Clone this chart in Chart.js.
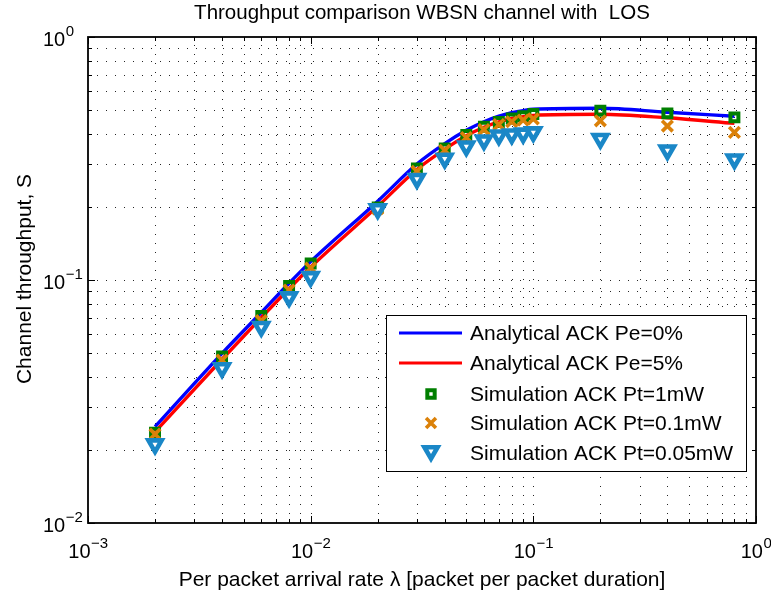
<!DOCTYPE html>
<html>
<head>
<meta charset="utf-8">
<script src="https://cdn.jsdelivr.net/npm/chart.js@4/dist/chart.umd.min.js"></script>
<style>
  html, body { margin: 0; padding: 0; background: #fff; }
  #wrap { width: 771px; height: 592px; position: relative; }
</style>
</head>
<body>
<div id="wrap"><canvas id="c" width="771" height="592"></canvas></div>
<script>
// ---- data ----
const lambda = [0.002, 0.004, 0.006, 0.008, 0.01, 0.02, 0.03, 0.04, 0.05, 0.06, 0.07, 0.08, 0.09, 0.1, 0.2, 0.4, 0.8];
const analyticPe0 = [0.0249, 0.0499, 0.0735, 0.097, 0.119, 0.211, 0.300, 0.364, 0.413, 0.448, 0.472, 0.488, 0.498, 0.504, 0.509, 0.490, 0.472];
const analyticPe5 = [0.0237, 0.0472, 0.0700, 0.092, 0.113, 0.201, 0.285, 0.345, 0.392, 0.425, 0.447, 0.462, 0.470, 0.476, 0.481, 0.465, 0.441];
const sim1mW   = [0.0235, 0.0484, 0.0712, 0.0945, 0.117, 0.199, 0.288, 0.348, 0.395, 0.427, 0.447, 0.462, 0.472, 0.482, 0.497, 0.485, 0.467];
const sim01mW  = [0.0232, 0.0468, 0.0680, 0.0910, 0.112, 0.196, 0.280, 0.342, 0.386, 0.416, 0.436, 0.448, 0.455, 0.460, 0.452, 0.430, 0.405];
const sim005mW = [0.0211, 0.0434, 0.0642, 0.0850, 0.103, 0.196, 0.261, 0.316, 0.355, 0.376, 0.394, 0.398, 0.401, 0.406, 0.381, 0.342, 0.314];

const xTickValues = [0.001, 0.01, 0.1, 1];
const xTickExps = ['\u22123', '\u22122', '\u22121', '0'];
const yTickValues = [0.01, 0.1, 1];
const yTickExps = ['\u22122', '\u22121', '0'];

const seriesNames = ['Analytical ACK Pe=0%', 'Analytical ACK Pe=5%', 'Simulation ACK Pt=1mW', 'Simulation ACK Pt=0.1mW', 'Simulation ACK Pt=0.05mW'];
const titleText = 'Throughput comparison WBSN channel with  LOS';
const xTitle = 'Per packet arrival rate \u03bb [packet per packet duration]';
const yTitle = 'Channel throughput, S';

const FONT = '"Liberation Sans", Arial, Helvetica, sans-serif';
const BLUE = '#0000FF', RED = '#FF0000', GREEN = '#007F00', ORANGE = '#DB8109', CYAN = '#1A87C7';

const pts = (ys) => lambda.map((x, i) => ({x: x, y: ys[i]}));

function logTicks(min, max) {
  const out = [];
  for (let e = Math.round(Math.log10(min)); e < Math.round(Math.log10(max)); e++) {
    for (let m = 1; m < 10; m++) out.push(m * Math.pow(10, e));
  }
  out.push(max);
  return out;
}
const isMajor = v => Math.abs(Math.log10(v) - Math.round(Math.log10(v))) < 1e-9;

// draw "10" with a superscript exponent; mode 'center' centres whole label, 'left' starts at x
function drawPow(ctx, exp, x, y, mode) {
  ctx.save();
  ctx.fillStyle = '#000';
  ctx.textBaseline = 'alphabetic';
  ctx.textAlign = 'left';
  ctx.font = '20px ' + FONT;
  const wb = ctx.measureText('10').width;
  ctx.font = '15px ' + FONT;
  const we = ctx.measureText(exp).width;
  const x0 = mode === 'center' ? x - (wb + we) / 2 : x;
  ctx.font = '20px ' + FONT;
  ctx.fillText('10', x0, y);
  ctx.font = '15px ' + FONT;
  ctx.fillText(exp, x0 + wb + 0.5, y - 10);
  ctx.restore();
}

const LEG = { x: 386, y: 315, w: 360, h: 156, rows: [333, 363, 394, 423, 453], lineX0: 399, lineX1: 462, markX: 431, textX: 470 };

const matlabPlugin = {
  id: 'matlab',
  beforeDatasetsDraw(chart) {
    const {ctx, chartArea: a, scales: {x, y}} = chart;
    ctx.save();
    ctx.strokeStyle = 'rgba(0,0,0,0.85)';
    ctx.lineWidth = 1;
    ctx.setLineDash([1, 8]);
    logTicks(0.001, 1).forEach(v => {
      const px = Math.round(x.getPixelForValue(v)) + 0.5;
      if (px <= a.left + 1 || px >= a.right - 1) return;
      ctx.beginPath(); ctx.moveTo(px, a.bottom); ctx.lineTo(px, a.top); ctx.stroke();
    });
    logTicks(0.01, 1).forEach(v => {
      const py = Math.round(y.getPixelForValue(v)) + 0.5;
      if (py <= a.top + 1 || py >= a.bottom - 1) return;
      ctx.beginPath(); ctx.moveTo(a.left, py); ctx.lineTo(a.right, py); ctx.stroke();
    });
    ctx.restore();
  },
  afterDatasetsDraw(chart) {
    const {ctx, chartArea: a, scales: {x, y}} = chart;
    ctx.save();
    ctx.strokeStyle = '#000';
    ctx.lineWidth = 1;
    ctx.setLineDash([]);
    logTicks(0.001, 1).forEach(v => {
      const px = Math.round(x.getPixelForValue(v)) + 0.5;
      const len = isMajor(v) ? 7 : 4;
      ctx.beginPath();
      ctx.moveTo(px, a.bottom); ctx.lineTo(px, a.bottom - len);
      ctx.moveTo(px, a.top); ctx.lineTo(px, a.top + len);
      ctx.stroke();
    });
    logTicks(0.01, 1).forEach(v => {
      const py = Math.round(y.getPixelForValue(v)) + 0.5;
      const len = isMajor(v) ? 7 : 4;
      ctx.beginPath();
      ctx.moveTo(a.left, py); ctx.lineTo(a.left + len, py);
      ctx.moveTo(a.right, py); ctx.lineTo(a.right - len, py);
      ctx.stroke();
    });
    ctx.lineWidth = 1.8;
    ctx.strokeRect(a.left, a.top, a.right - a.left, a.bottom - a.top);

    // legend
    ctx.fillStyle = '#fff';
    ctx.fillRect(LEG.x, LEG.y, LEG.w, LEG.h);
    ctx.lineWidth = 1;
    ctx.strokeStyle = '#000';
    ctx.strokeRect(LEG.x + 0.5, LEG.y + 0.5, LEG.w, LEG.h);
    ctx.font = '21px ' + FONT;
    ctx.textBaseline = 'middle';
    ctx.textAlign = 'left';
    chart.data.datasets.forEach((ds, i) => {
      const ry = LEG.rows[i];
      ctx.save();
      if (ds.showLine !== false) {
        ctx.strokeStyle = ds.borderColor;
        ctx.lineWidth = 3.2;
        ctx.beginPath(); ctx.moveTo(LEG.lineX0, ry); ctx.lineTo(LEG.lineX1, ry); ctx.stroke();
      } else {
        ctx.fillStyle = ds.pointBackgroundColor;
        ctx.strokeStyle = ds.pointBorderColor;
        ctx.lineWidth = ds.pointBorderWidth;
        Chart.helpers.drawPoint(ctx, {
          pointStyle: ds.pointStyle, rotation: ds.pointRotation || 0,
          radius: ds.legendRadius, borderWidth: ds.pointBorderWidth
        }, LEG.markX, ry - (ds.pointStyle === 'triangle' ? 2 : 0));
      }
      ctx.restore();
      ctx.fillStyle = '#000';
      ctx.fillText(seriesNames[i], LEG.textX, ry + 1);
    });
    ctx.restore();
  },
  afterDraw(chart) {
    const {ctx, chartArea: a, scales: {x, y}} = chart;
    ctx.save();
    xTickValues.forEach((v, i) => drawPow(ctx, xTickExps[i], x.getPixelForValue(v), 558, 'center'));
    yTickValues.forEach((v, i) => drawPow(ctx, yTickExps[i], 43, y.getPixelForValue(v) + 9, 'left'));
    ctx.fillStyle = '#000';
    ctx.textAlign = 'center';
    ctx.textBaseline = 'alphabetic';
    ctx.font = '20.5px ' + FONT;
    ctx.fillText(titleText, (a.left + a.right) / 2, 19);
    ctx.font = '21px ' + FONT;
    ctx.fillText(xTitle, (a.left + a.right) / 2, 586);
    ctx.translate(31, 279);
    ctx.rotate(-Math.PI / 2);
    ctx.fillText(yTitle, 0, 0);
    ctx.restore();
  }
};

const ctx = document.getElementById('c').getContext('2d');
new Chart(ctx, {
  type: 'line',
  data: {
    datasets: [
      { label: seriesNames[0], data: pts(analyticPe0), borderColor: BLUE, backgroundColor: BLUE,
        borderWidth: 3.4, pointRadius: 0, tension: 0.4, cubicInterpolationMode: 'monotone', order: 5 },
      { label: seriesNames[1], data: pts(analyticPe5), borderColor: RED, backgroundColor: RED,
        borderWidth: 3.4, pointRadius: 0, tension: 0.4, cubicInterpolationMode: 'monotone', order: 4 },
      { label: seriesNames[2], data: pts(sim1mW), showLine: false, pointStyle: 'rect',
        pointRadius: 5.6, legendRadius: 5.2, borderColor: GREEN, backgroundColor: 'rgba(0,0,0,0)',
        pointBorderColor: GREEN, pointBackgroundColor: 'rgba(0,0,0,0)', pointBorderWidth: 4, order: 3 },
      { label: seriesNames[3], data: pts(sim01mW), showLine: false, pointStyle: 'crossRot',
        pointRadius: 7.5, legendRadius: 7, borderColor: ORANGE, backgroundColor: ORANGE,
        pointBorderColor: ORANGE, pointBackgroundColor: ORANGE, pointBorderWidth: 3.6, order: 2 },
      { label: seriesNames[4], data: pts(sim005mW), showLine: false, pointStyle: 'triangle',
        pointRotation: 180, pointRadius: 7.6, legendRadius: 7.6, borderColor: CYAN, backgroundColor: '#fff',
        pointBorderColor: CYAN, pointBackgroundColor: '#fff', pointBorderWidth: 4.6, order: 1 }
    ]
  },
  options: {
    responsive: false,
    animation: false,
    events: [],
    layout: { padding: { left: 88, right: 15, top: 37, bottom: 69 } },
    scales: {
      x: { type: 'logarithmic', min: 0.001, max: 1, display: false },
      y: { type: 'logarithmic', min: 0.01, max: 1, display: false }
    },
    plugins: { legend: { display: false }, title: { display: false }, tooltip: { enabled: false } }
  },
  plugins: [matlabPlugin]
});
</script>
</body>
</html>
